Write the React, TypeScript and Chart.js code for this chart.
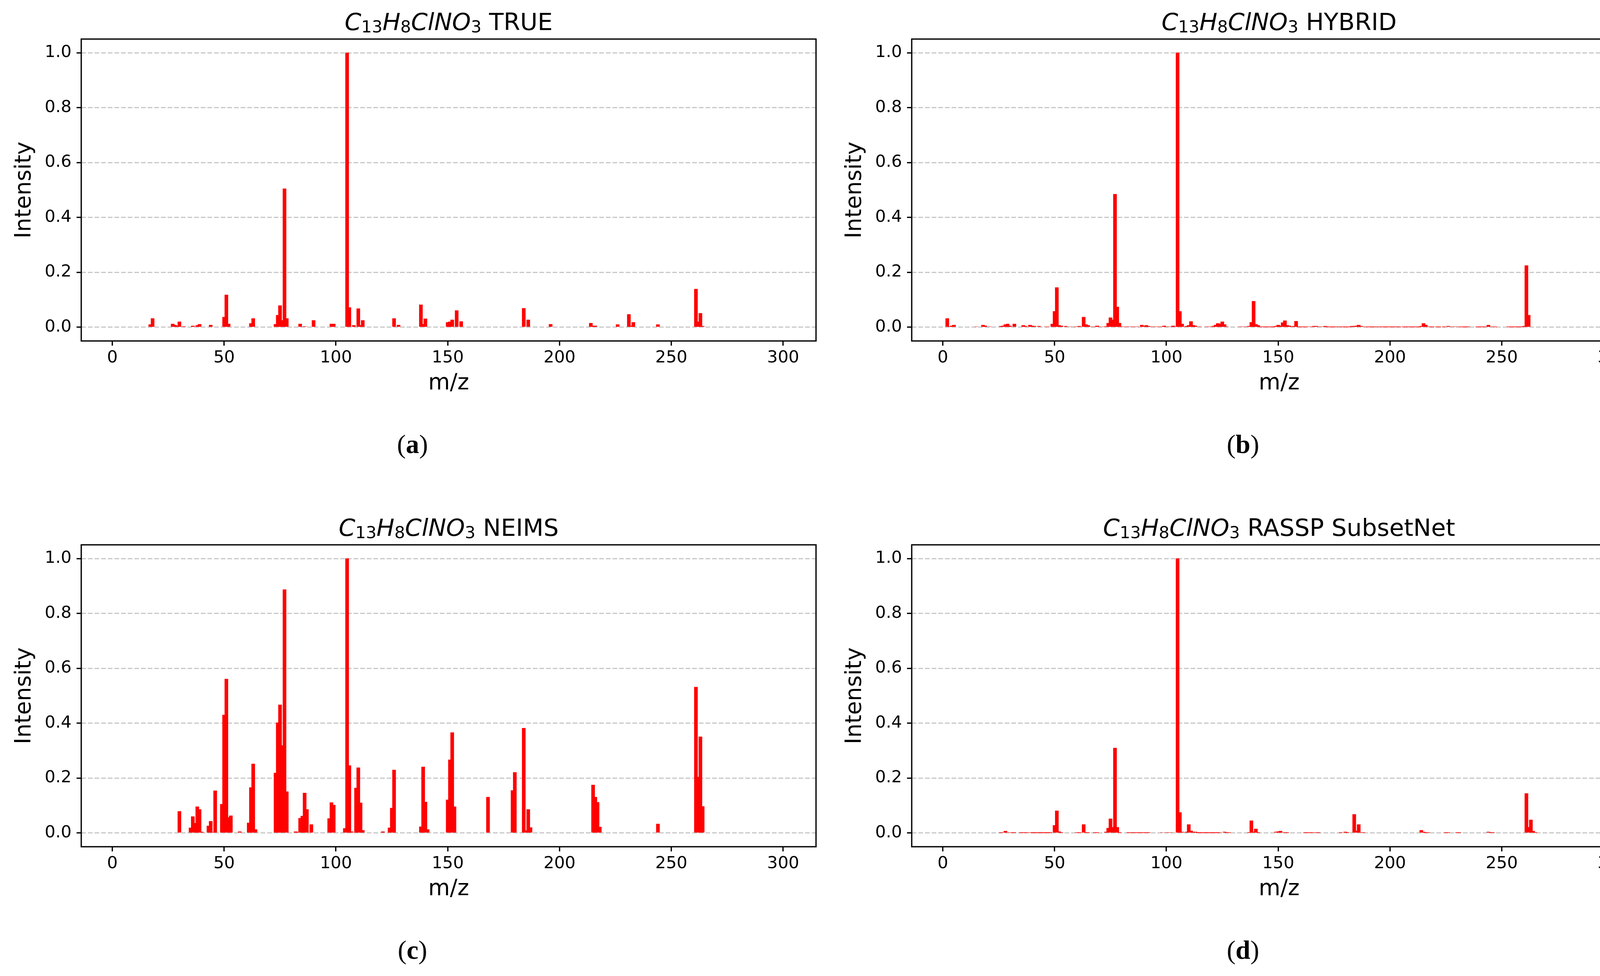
import { useEffect, useRef } from "react";
import { Chart, BarController, BarElement, LinearScale } from "chart.js";

Chart.register(BarController, BarElement, LinearScale);

// ---- data (m/z, relative intensity) ----

const trueMz = [
  17, 18, 27, 28, 29, 30, 32, 36, 38, 39,
  44, 50, 51, 52, 62, 63, 73, 74, 75, 76,
  77, 78, 84, 86, 90, 98, 99, 105, 106, 108,
  110, 111, 112, 126, 128, 138, 139, 140, 150, 151,
  152, 154, 156, 184, 186, 196, 214, 215, 216, 226,
  231, 232, 233, 244, 261, 262, 263, 264,
];
const trueIntensity = [
  0.010, 0.032, 0.012, 0.008, 0.005, 0.020, 0.003, 0.005, 0.007, 0.011,
  0.008, 0.037, 0.118, 0.012, 0.014, 0.032, 0.011, 0.044, 0.079, 0.025,
  0.505, 0.032, 0.012, 0.003, 0.025, 0.012, 0.012, 1.0, 0.072, 0.007,
  0.068, 0.007, 0.025, 0.032, 0.008, 0.082, 0.011, 0.031, 0.018, 0.020,
  0.027, 0.061, 0.021, 0.069, 0.027, 0.011, 0.015, 0.005, 0.005, 0.010,
  0.047, 0.005, 0.018, 0.010, 0.139, 0.020, 0.051, 0.004,
];

const hybridMz = [
  2, 3, 4, 5, 15, 18, 19, 21, 26, 27,
  28, 29, 30, 32, 36, 37, 39, 40, 41, 43,
  46, 47, 49, 50, 51, 52, 53, 55, 57, 59,
  60, 61, 63, 64, 65, 66, 67, 68, 69, 70,
  72, 73, 74, 75, 76, 77, 78, 79, 80, 81,
  82, 83, 84, 85, 86, 87, 89, 90, 91, 92,
  93, 94, 95, 96, 97, 98, 99, 100, 101, 102,
  103, 104, 105, 106, 107, 108, 109, 110, 111, 112,
  113, 115, 118, 119, 120, 121, 122, 123, 124, 125,
  126, 127, 133, 134, 135, 136, 137, 138, 139, 140,
  141, 142, 143, 144, 145, 146, 147, 148, 149, 150,
  151, 152, 153, 154, 155, 156, 157, 158, 159, 160,
  161, 162, 163, 164, 165, 166, 167, 168, 169, 170,
  171, 172, 173, 174, 175, 176, 177, 178, 179, 180,
  181, 182, 183, 184, 185, 186, 187, 188, 189, 190,
  191, 192, 193, 194, 195, 196, 197, 198, 199, 200,
  201, 202, 203, 204, 206, 207, 208, 209, 210, 211,
  212, 213, 214, 215, 216, 217, 218, 219, 221, 222,
  224, 226, 227, 228, 229, 230, 231, 232, 233, 234,
  235, 239, 240, 241, 242, 243, 244, 245, 246, 247,
  253, 254, 255, 256, 257, 258, 259, 260, 261, 262,
];
const hybridIntensity = [
  0.032, 0.002, 0.005, 0.008, 0.002, 0.008, 0.005, 0.002, 0.004, 0.005,
  0.010, 0.012, 0.005, 0.012, 0.007, 0.004, 0.008, 0.005, 0.004, 0.004,
  0.002, 0.002, 0.012, 0.058, 0.145, 0.007, 0.005, 0.004, 0.002, 0.002,
  0.002, 0.004, 0.037, 0.010, 0.007, 0.002, 0.002, 0.002, 0.005, 0.002,
  0.002, 0.003, 0.015, 0.035, 0.027, 0.485, 0.074, 0.015, 0.002, 0.002,
  0.002, 0.002, 0.002, 0.002, 0.002, 0.002, 0.008, 0.004, 0.007, 0.004,
  0.002, 0.002, 0.002, 0.002, 0.002, 0.002, 0.005, 0.002, 0.002, 0.002,
  0.005, 0.002, 1.0, 0.058, 0.012, 0.002, 0.004, 0.007, 0.021, 0.007,
  0.005, 0.002, 0.002, 0.002, 0.002, 0.004, 0.008, 0.014, 0.012, 0.020,
  0.010, 0.002, 0.002, 0.002, 0.002, 0.002, 0.004, 0.018, 0.095, 0.011,
  0.007, 0.001, 0.001, 0.001, 0.001, 0.001, 0.001, 0.001, 0.004, 0.008,
  0.005, 0.017, 0.024, 0.007, 0.005, 0.002, 0.004, 0.022, 0.001, 0.001,
  0.001, 0.001, 0.002, 0.002, 0.002, 0.004, 0.004, 0.002, 0.002, 0.002,
  0.004, 0.001, 0.001, 0.001, 0.001, 0.001, 0.002, 0.001, 0.001, 0.001,
  0.001, 0.001, 0.004, 0.004, 0.005, 0.008, 0.004, 0.002, 0.002, 0.001,
  0.001, 0.001, 0.001, 0.001, 0.002, 0.001, 0.001, 0.001, 0.001, 0.001,
  0.001, 0.001, 0.001, 0.001, 0.001, 0.001, 0.001, 0.001, 0.001, 0.001,
  0.001, 0.001, 0.004, 0.014, 0.008, 0.002, 0.001, 0.001, 0.001, 0.001,
  0.001, 0.004, 0.002, 0.002, 0.002, 0.002, 0.002, 0.001, 0.001, 0.001,
  0.001, 0.001, 0.001, 0.001, 0.001, 0.002, 0.008, 0.002, 0.002, 0.001,
  0.001, 0.001, 0.001, 0.001, 0.001, 0.001, 0.001, 0.004, 0.225, 0.044,
];

const neimsMz = [
  30, 35, 36, 37, 38, 39, 40, 43, 44, 45,
  46, 49, 50, 51, 52, 53, 57, 61, 62, 63,
  64, 73, 74, 75, 76, 77, 78, 82, 83, 84,
  85, 86, 87, 89, 97, 98, 99, 104, 105, 106,
  107, 109, 110, 111, 112, 121, 124, 125, 126, 138,
  139, 140, 141, 150, 151, 152, 153, 168, 179, 180,
  184, 185, 186, 187, 215, 216, 217, 218, 244, 261,
  262, 263, 264,
];
const neimsIntensity = [
  0.079, 0.019, 0.060, 0.036, 0.096, 0.086, 0.004, 0.026, 0.043, 0.003,
  0.154, 0.105, 0.430, 0.561, 0.057, 0.063, 0.005, 0.037, 0.166, 0.252,
  0.013, 0.219, 0.402, 0.467, 0.319, 0.887, 0.151, 0.005, 0.003, 0.054,
  0.062, 0.146, 0.086, 0.031, 0.053, 0.111, 0.102, 0.017, 1.0, 0.246,
  0.005, 0.164, 0.238, 0.110, 0.010, 0.005, 0.019, 0.091, 0.230, 0.023,
  0.241, 0.113, 0.013, 0.121, 0.267, 0.366, 0.096, 0.131, 0.155, 0.221,
  0.382, 0.009, 0.086, 0.020, 0.175, 0.131, 0.112, 0.022, 0.033, 0.532,
  0.204, 0.351, 0.097,
];

const rasspMz = [
  26, 27, 28, 29, 30, 31, 32, 35, 36, 37,
  38, 39, 40, 41, 42, 43, 44, 45, 46, 47,
  48, 50, 51, 52, 53, 60, 61, 63, 64, 65,
  68, 69, 73, 74, 75, 76, 77, 78, 79, 83,
  84, 85, 86, 87, 88, 89, 90, 91, 92, 98,
  100, 101, 102, 105, 106, 107, 109, 110, 111, 112,
  113, 114, 115, 116, 117, 118, 119, 120, 121, 122,
  123, 124, 126, 127, 128, 137, 138, 139, 140, 141,
  149, 150, 151, 152, 153, 154, 162, 163, 164, 165,
  167, 168, 178, 180, 181, 184, 185, 186, 187, 188,
  214, 215, 216, 217, 225, 226, 230, 231, 244, 245,
  246, 261, 262, 263, 264, 265,
];
const rasspIntensity = [
  0.001, 0.002, 0.007, 0.002, 0.002, 0.001, 0.001, 0.001, 0.001, 0.001,
  0.002, 0.002, 0.0005, 0.0005, 0.0005, 0.0005, 0.0005, 0.0005, 0.0005, 0.0005,
  0.0005, 0.028, 0.081, 0.005, 0.001, 0.001, 0.001, 0.031, 0.001, 0.001,
  0.001, 0.001, 0.004, 0.018, 0.052, 0.021, 0.310, 0.021, 0.001, 0.001,
  0.001, 0.001, 0.001, 0.001, 0.001, 0.001, 0.001, 0.001, 0.001, 0.002,
  0.002, 0.002, 0.002, 1.0, 0.075, 0.004, 0.004, 0.031, 0.008, 0.004,
  0.004, 0.0005, 0.0005, 0.0005, 0.0005, 0.0005, 0.0005, 0.0005, 0.0005, 0.0005,
  0.0005, 0.002, 0.004, 0.001, 0.001, 0.001, 0.045, 0.004, 0.015, 0.001,
  0.004, 0.005, 0.007, 0.002, 0.001, 0.001, 0.001, 0.001, 0.001, 0.001,
  0.001, 0.001, 0.001, 0.004, 0.001, 0.068, 0.008, 0.031, 0.002, 0.001,
  0.010, 0.004, 0.001, 0.001, 0.001, 0.001, 0.001, 0.001, 0.004, 0.001,
  0.001, 0.144, 0.021, 0.048, 0.007, 0.001,
];

const xTicks = [0, 50, 100, 150, 200, 250, 300];
const yTicks = [0, 0.2, 0.4, 0.6, 0.8, 1.0];

// ---- layout (page pixels) ----
const YW = 208; // y axis box width
const PAD_T = 40;
const PAD_R = 50;
const AX_W = 1881;
const AX_H = 773;
const XH = 160; // x axis box height
const FONT = "DejaVu Sans";

const framePlugin = {
  id: "frame",
  afterDraw(chart: Chart) {
    const { ctx, chartArea: a } = chart;
    ctx.save();
    ctx.strokeStyle = "#000";
    ctx.lineWidth = 3.3;
    ctx.strokeRect(a.left, a.top, a.right - a.left, a.bottom - a.top);
    ctx.restore();
  },
};

interface PanelProps {
  mz: number[];
  intensity: number[];
  left: number; // axes left, page px
  top: number; // axes top, page px
  name: string;
  tag: string;
}

function Panel({ mz, intensity, left, top, name, tag }: PanelProps) {
  const canvasRef = useRef<HTMLCanvasElement>(null);

  useEffect(() => {
    if (!canvasRef.current) return;
    const chart = new Chart(canvasRef.current, {
      type: "bar",
      data: {
        datasets: [
          {
            data: mz.map((x, i) => ({ x, y: intensity[i] })),
            backgroundColor: "#ff0000",
            borderWidth: 0,
            barThickness: 8.6,
            grouped: false,
          } as any,
        ],
      },
      options: {
        responsive: false,
        animation: false,
        devicePixelRatio: 1,
        layout: { padding: { top: PAD_T, right: PAD_R, left: 0, bottom: 0 } },
        scales: {
          x: {
            type: "linear",
            min: -13.9,
            max: 314.7,
            offset: false,
            afterBuildTicks: (s: any) => {
              s.ticks = xTicks.map((value) => ({ value }));
            },
            afterFit: (s: any) => {
              s.height = XH;
            },
            grid: {
              display: true,
              drawOnChartArea: false,
              drawTicks: true,
              tickLength: 12,
              tickWidth: 3.3,
              tickColor: "#000",
              offset: false,
            },
            border: { display: false },
            ticks: {
              autoSkip: false,
              maxRotation: 0,
              padding: 10.6,
              color: "#000",
              font: { family: FONT, size: 43, lineHeight: 1 },
            },
            title: {
              display: true,
              text: "m/z",
              color: "#000",
              font: { family: FONT, size: 57, lineHeight: 1 },
              padding: { top: 0, bottom: 22 },
            },
          },
          y: {
            type: "linear",
            min: -0.05,
            max: 1.05,
            afterBuildTicks: (s: any) => {
              s.ticks = yTicks.map((value) => ({ value }));
            },
            afterFit: (s: any) => {
              s.width = YW;
            },
            grid: {
              color: "#c8c8c8",
              lineWidth: 3,
              drawTicks: true,
              tickLength: 12,
              tickWidth: 3.3,
              tickColor: "#000",
              tickBorderDash: [],
            },
            border: { display: false, dash: [12, 5] },
            ticks: {
              padding: 13,
              color: "#000",
              font: { family: FONT, size: 43, lineHeight: 1 },
              callback: (v: any) => Number(v).toFixed(1),
            },
            title: {
              display: true,
              text: "Intensity",
              color: "#000",
              font: { family: FONT, size: 57, lineHeight: 1 },
              padding: { top: 35, bottom: 0 },
            },
          },
        },
      },
      plugins: [framePlugin],
    });
    return () => chart.destroy();
  }, [mz, intensity]);

  const canvasW = YW + AX_W + PAD_R;
  const canvasH = PAD_T + AX_H + XH;
  const subStyle = { fontSize: "0.7em", fontStyle: "normal", verticalAlign: "-0.13em", lineHeight: 0 };

  return (
    <>
      <canvas
        ref={canvasRef}
        width={canvasW}
        height={canvasH}
        style={{ position: "absolute", left: left - YW, top: top - PAD_T, width: canvasW, height: canvasH }}
      />
      <div
        style={{
          position: "absolute",
          left: left + AX_W / 2,
          top: top - 23 - 61 * 0.846,
          transform: "translateX(-50%)",
          whiteSpace: "nowrap",
          fontFamily: FONT,
          fontSize: 61,
          lineHeight: "61px",
          color: "#000",
        }}
      >
        <span style={{ fontStyle: "italic" }}>
          C<sub style={subStyle}>13</sub>H<sub style={subStyle}>8</sub>ClNO<sub style={subStyle}>3</sub>
        </span>{" "}
        {name}
      </div>
      <div
        style={{
          position: "absolute",
          left: left + 848,
          top: top + AX_H + 230,
          transform: "translateX(-50%)",
          whiteSpace: "nowrap",
          fontFamily: "Liberation Serif",
          fontSize: 68,
          lineHeight: "68px",
          color: "#000",
        }}
      >
        (<b>{tag}</b>)
      </div>
    </>
  );
}

export default function App() {
  return (
    <div
      style={{
        position: "absolute",
        left: 0,
        top: 0,
        width: 4255,
        height: 2499,
        background: "#fff",
        overflow: "hidden",
      }}
    >
      <Panel mz={trueMz} intensity={trueIntensity} left={208} top={100} name="TRUE" tag="a" />
      <Panel mz={hybridMz} intensity={hybridIntensity} left={2334} top={100} name="HYBRID" tag="b" />
      <Panel mz={neimsMz} intensity={neimsIntensity} left={208} top={1395} name="NEIMS" tag="c" />
      <Panel mz={rasspMz} intensity={rasspIntensity} left={2334} top={1395} name="RASSP SubsetNet" tag="d" />
    </div>
  );
}
